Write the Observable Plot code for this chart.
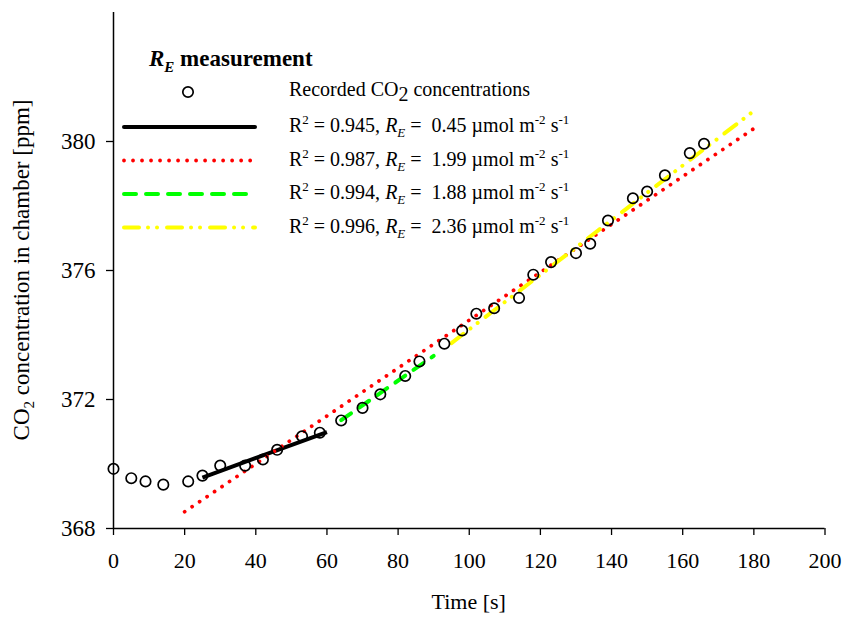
<!DOCTYPE html>
<html>
<head>
<meta charset="utf-8">
<script src="https://cdn.jsdelivr.net/npm/d3@7"></script>
<script src="https://cdn.jsdelivr.net/npm/@observablehq/plot@0.6"></script>
<style>
  html, body { margin: 0; padding: 0; background: #fff; }
  #chart { position: relative; width: 844px; height: 619px; }
  #chart svg { position: absolute; left: 0; top: 0; }
</style>
</head>
<body>
<div id="chart"></div>
<script>
// ---- data ----
const times = [0, 5, 9, 14, 21, 25, 30, 37, 42, 46, 53, 58, 64, 70, 75, 82, 86, 93, 98, 102, 107, 114, 118, 123, 130, 134, 139, 146, 150, 155, 162, 166];
const co2 = [369.85, 369.56, 369.46, 369.36, 369.46, 369.64, 369.95, 369.95, 370.14, 370.44, 370.86, 370.97, 371.35, 371.74, 372.16, 372.73, 373.18, 373.73, 374.14, 374.66, 374.83, 375.15, 375.87, 376.26, 376.54, 376.83, 377.55, 378.24, 378.45, 378.95, 379.64, 379.93];

// fitted lines: start/end time and concentration
const fitNames = ["black", "red", "green", "yellow"];
const fitT0 = [25, 20, 64, 95];
const fitT1 = [60, 180, 90, 180];
const fitC0 = [369.58, 368.52, 371.36, 373.75];
const fitC1 = [370.99, 380.40, 373.35, 380.95];
const fitR2 = ["0.945", "0.987", "0.994", "0.996"];
const fitRE = ["0.45", "1.99", "1.88", "2.36"];

const xTicks = [0, 20, 40, 60, 80, 100, 120, 140, 160, 180, 200];
const yTicks = [368, 372, 376, 380];

// ---- styles ----
const fitStyle = {
  black: {stroke: "#000000", strokeWidth: 4, strokeDasharray: null, strokeLinecap: "butt"},
  red: {stroke: "#ff0000", strokeWidth: 3.8, strokeDasharray: "0.01,9", strokeLinecap: "round"},
  green: {stroke: "#00ff00", strokeWidth: 4, strokeDasharray: "12,10", strokeLinecap: "round"},
  yellow: {stroke: "#ffff00", strokeWidth: 4, strokeDasharray: "15,9,0.01,9,0.01,10", strokeLinecap: "round"}
};

const points = times.map((t, i) => ({t, c: co2[i]}));
const fits = fitNames.map((n, i) => [
  {name: n, t: fitT0[i], c: fitC0[i]},
  {name: n, t: fitT1[i], c: fitC1[i]}
]);

const W = 844, H = 619, ML = 113, MR = 19.5, MT = 12, MB = 91;
const FONT = "'Liberation Serif', 'Times New Roman', serif";

const fitMarks = fits.map(seg => Plot.line(seg, {
  x: "t", y: "c",
  ...fitStyle[seg[0].name]
}));

const plot = Plot.plot({
  width: W, height: H,
  marginLeft: ML, marginRight: MR, marginTop: MT, marginBottom: MB,
  style: {fontFamily: FONT, fontSize: "22px", color: "#000", background: "transparent"},
  x: {domain: [0, 200]},
  y: {domain: [368, 384]},
  marks: [
    Plot.axisX(xTicks, {tickSize: 7, tickPadding: 17, fontSize: 22, label: null, strokeWidth: 1.3}),
    Plot.axisY(yTicks, {tickSize: 7, tickPadding: 11, fontSize: 23, label: null, strokeWidth: 1.3}),
    Plot.ruleY([368], {stroke: "#000", strokeWidth: 1.5}),
    Plot.ruleX([0], {stroke: "#000", strokeWidth: 1.5}),
    ...fitMarks,
    Plot.dot(points, {x: "t", y: "c", r: 5.2, stroke: "#000", strokeWidth: 1.7, fill: "none"})
  ]
});

const container = document.getElementById("chart");
container.appendChild(plot);

// ---- axis titles and legend overlay ----
const ov = d3.select(container).append("svg")
  .attr("width", W).attr("height", H)
  .style("pointer-events", "none")
  .attr("font-family", FONT)
  .style("white-space", "pre");

ov.append("text")
  .attr("x", (ML + W - MR) / 2).attr("y", 609)
  .attr("text-anchor", "middle").attr("font-size", 22)
  .text("Time [s]");

ov.append("text")
  .attr("transform", `translate(29,${(MT + H - MB) / 2}) rotate(-90)`)
  .attr("text-anchor", "middle").attr("font-size", 23)
  .html('CO<tspan font-size="15" dy="5">2</tspan><tspan dy="-5"> concentration in chamber [ppm]</tspan>');

// legend title
ov.append("text")
  .attr("x", 149).attr("y", 66)
  .attr("font-size", 23).attr("font-weight", "bold")
  .html('<tspan font-style="italic">R</tspan><tspan font-style="italic" font-size="15" dy="6">E</tspan><tspan dy="-6"> measurement</tspan>');

// legend: recorded points
ov.append("circle").attr("cx", 188).attr("cy", 92).attr("r", 5.2)
  .attr("fill", "none").attr("stroke", "#000").attr("stroke-width", 1.7);
ov.append("text").attr("x", 289).attr("y", 96).attr("font-size", 20)
  .html('Recorded CO<tspan dy="5">2</tspan><tspan dy="-5"> concentrations</tspan>');

// legend: fits
fitNames.forEach((n, i) => {
  const yy = 127 + i * 33.5;
  const s = fitStyle[n];
  ov.append("line")
    .attr("x1", 124).attr("x2", 255).attr("y1", yy).attr("y2", yy)
    .attr("stroke", s.stroke).attr("stroke-width", s.strokeWidth)
    .attr("stroke-dasharray", s.strokeDasharray)
    .attr("stroke-linecap", n === "black" ? "round" : s.strokeLinecap);
  ov.append("text").attr("x", 289).attr("y", yy + 5).attr("font-size", 20)
    .html(`R<tspan font-size="13" dy="-8">2</tspan><tspan dy="8"> = ${fitR2[i]}, </tspan><tspan font-style="italic">R</tspan><tspan font-style="italic" font-size="13" dy="5">E</tspan><tspan dy="-5"> =\u00a0 ${fitRE[i]} µmol m</tspan><tspan font-size="13" dy="-8">-2</tspan><tspan dy="8"> s</tspan><tspan font-size="13" dy="-8">-1</tspan>`);
});
</script>
</body>
</html>
